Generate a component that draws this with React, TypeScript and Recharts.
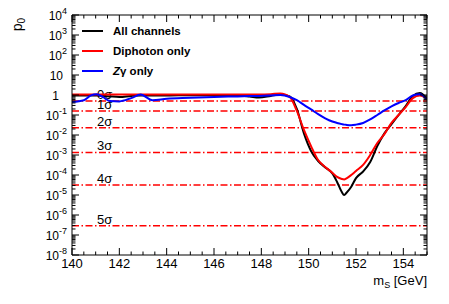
import React from "react";
import { LineChart, Line, XAxis, YAxis, ReferenceLine, Legend, Label } from "recharts";

// m_S [GeV] sample points
const MASS = [
    140, 140.5, 140.8, 141.05, 141.3, 141.6, 142, 142.5, 142.9, 143.4,
    144, 145, 146, 147, 147.5, 147.9, 148.4, 148.8, 149.2, 149.5,
    149.8, 150.1, 150.4, 150.7, 151.0, 151.2, 151.4, 151.5, 151.6, 151.8,
    152.0, 152.3, 152.6, 152.9, 153.2, 153.5, 153.8, 154.1, 154.4, 154.7, 155,
];

// local p0, all channels combined
const P0_ALL = [
    0.95, 0.95, 0.95, 0.95, 0.9, 0.85, 0.8, 0.9, 0.95, 0.95,
    0.95, 0.97, 0.97, 0.95, 0.85, 0.75, 0.9, 1.05, 0.85, 0.2,
    0.012, 1.6e-3, 5e-4, 2.4e-4, 1.2e-4, 4.5e-5, 1.4e-5, 1.0e-5, 1.3e-5, 2.6e-5,
    7e-5, 1.5e-4, 4.5e-4, 2.8e-3, 1.2e-2, 3.5e-2, 0.1, 0.28, 0.9, 1.25, 0.65,
];

// local p0, diphoton channel only
const P0_DIPHOTON = [
    1.05, 1.05, 1.05, 1.05, 1.05, 1.05, 1.05, 1.05, 1.05, 1.05,
    1.05, 1.05, 1.05, 1.05, 1.05, 1.05, 1.1, 1.2, 0.8, 0.16,
    0.018, 2.8e-3, 5.6e-4, 2.5e-4, 1.3e-4, 8e-5, 6.3e-5, 6e-5, 6.8e-5, 1e-4,
    1.6e-4, 3.2e-4, 1e-3, 4e-3, 1.1e-2, 4e-2, 0.1, 0.25, 0.7, 0.95, 0.65,
];

// local p0, Z gamma channel only
const P0_ZGAMMA = [
    0.45, 0.55, 0.95, 1.1, 0.8, 0.5, 0.48, 0.7, 1.05, 0.55,
    0.65, 0.72, 0.8, 0.85, 0.88, 0.9, 0.95, 1.0, 0.8, 0.55,
    0.32, 0.19, 0.11, 0.068, 0.047, 0.04, 0.035, 0.033, 0.032, 0.031,
    0.033, 0.04, 0.06, 0.1, 0.17, 0.27, 0.4, 0.55, 0.95, 1.1, 0.6,
];

const SIGMA_P = [0.5, 0.1587, 0.02275, 0.00135, 3.167e-5, 2.867e-7];
const SIGMA_LABELS = ["0σ", "1σ", "2σ", "3σ", "4σ", "5σ"];

const SERIES = [
    { key: "all", name: "All channels", color: "#000000" },
    { key: "dipho", name: "Diphoton only", color: "#ff0000" },
    { key: "zg", name: "Zγ only", color: "#0000ff" },
];

const X_TICKS = [
    140, 140.5, 141, 141.5, 142, 142.5, 143, 143.5, 144, 144.5, 145, 145.5,
    146, 146.5, 147, 147.5, 148, 148.5, 149, 149.5, 150, 150.5, 151, 151.5,
    152, 152.5, 153, 153.5, 154, 154.5, 155,
];
const Y_DECADES = [1e-8, 1e-7, 1e-6, 1e-5, 1e-4, 1e-3, 1e-2, 1e-1, 1, 10, 100, 1000, 10000];
const Y_TICKS = [
    ...Y_DECADES,
    ...Y_DECADES.slice(0, -1).flatMap((d) => [2, 3, 4, 5, 6, 7, 8, 9].map((m) => m * d)),
];

const data = MASS.map((m, i) => ({
    mass: m,
    all: P0_ALL[i],
    dipho: P0_DIPHOTON[i],
    zg: P0_ZGAMMA[i],
}));

const FONT = "'Liberation Sans', Arial, Helvetica, sans-serif";

function isDecade(v: number) {
    const lg = Math.log10(v);
    return Math.abs(lg - Math.round(lg)) < 1e-6;
}

const YTick = (side: "left" | "right") => (props: any) => {
    const { x, y, payload } = props;
    const v = payload.value;
    const major = isDecade(v);
    const dir = side === "left" ? 1 : -1;
    const len = major ? 7 : 3.5;
    const e = Math.round(Math.log10(v));
    let label = null;
    if (side === "left" && major) {
        if (e === 0 || e === 1) {
            label = (
                <text x={x - (e === 0 ? 13 : 9)} y={y + 4.5} textAnchor="end" fontSize={12} fontFamily={FONT} fill="#000">
                    {e === 0 ? "1" : "10"}
                </text>
            );
        } else {
            label = (
                <text x={x - 5} y={y + 4.5} textAnchor="end" fontSize={12} fontFamily={FONT} fill="#000">
                    <tspan>10</tspan>
                    <tspan dy={-5.5} fontSize={9}>{e}</tspan>
                </text>
            );
        }
    }
    return (
        <g>
            <line x1={x} x2={x + dir * len} y1={y} y2={y} stroke="#000" strokeWidth={1} />
            {label}
        </g>
    );
};

const XTick = (side: "bottom" | "top") => (props: any) => {
    const { x, y, payload } = props;
    const v = payload.value;
    const major = v % 2 === 0;
    const dir = side === "bottom" ? -1 : 1;
    const len = major ? 7 : 3.5;
    return (
        <g>
            <line x1={x} x2={x} y1={y} y2={y + dir * len} stroke="#000" strokeWidth={1} />
            {side === "bottom" && major && v < 155 && (
                <text x={x} y={y + 13} textAnchor="middle" fontSize={13} fontFamily={FONT} fill="#000">
                    {v}
                </text>
            )}
        </g>
    );
};

const SigmaLabel = (props: any) => {
    const { viewBox, text } = props;
    return (
        <text x={viewBox.x + 25} y={viewBox.y - 2} fontSize={13} fontFamily={FONT} fill="#000">
            {text}
        </text>
    );
};

const XTitle = (props: any) => {
    const { viewBox } = props;
    return (
        <text x={viewBox.x + viewBox.width} y={viewBox.y + 30} textAnchor="end" fontSize={13} fontFamily={FONT} fill="#000">
            <tspan>m</tspan>
            <tspan dy={3} fontSize={9}>S</tspan>
            <tspan dy={-3}> [GeV]</tspan>
        </text>
    );
};

const YTitle = (props: any) => {
    const { viewBox } = props;
    const x = viewBox.x - 49;
    const y = viewBox.y + 3;
    return (
        <text x={x} y={y} transform={`rotate(-90 ${x} ${y})`} textAnchor="end" fontSize={14} fontFamily={FONT} fill="#000">
            <tspan>p</tspan>
            <tspan dy={3} fontSize={10}>0</tspan>
        </text>
    );
};

const LegendBox = () => (
    <div style={{ fontFamily: FONT, fontWeight: "bold", fontSize: 11.5 }}>
        {SERIES.map((s) => (
            <div key={s.key} style={{ height: 20, display: "flex", alignItems: "center" }}>
                <svg width={21} height={4} style={{ marginRight: 10 }}>
                    <line x1={0} x2={21} y1={2} y2={2} stroke={s.color} strokeWidth={2} />
                </svg>
                <span>{s.name === "Zγ only" ? <><i>Z</i>γ only</> : s.name}</span>
            </div>
        ))}
    </div>
);

export default function App() {
    return (
        <div style={{ position: "absolute", left: 0, top: 0, width: 449, height: 304, background: "#fff" }}>
            <LineChart width={449} height={304} data={data} margin={{ top: 14, right: 21, bottom: 48, left: 71 }}>
                <XAxis
                    xAxisId="b"
                    dataKey="mass"
                    type="number"
                    domain={[140, 155]}
                    ticks={X_TICKS}
                    interval={0}
                    height={1}
                    tickSize={0}
                    tickMargin={0}
                    tickLine={false}
                    tick={XTick("bottom")}
                    axisLine={{ stroke: "#000" }}
                    allowDataOverflow
                >
                    <Label content={<XTitle />} />
                </XAxis>
                <XAxis
                    xAxisId="t"
                    orientation="top"
                    dataKey="mass"
                    type="number"
                    domain={[140, 155]}
                    ticks={X_TICKS}
                    interval={0}
                    height={1}
                    tickSize={0}
                    tickMargin={0}
                    tickLine={false}
                    tick={XTick("top")}
                    axisLine={{ stroke: "#000" }}
                    allowDataOverflow
                />
                <YAxis
                    yAxisId="l"
                    type="number"
                    scale="log"
                    domain={[1e-8, 1e4]}
                    ticks={Y_TICKS}
                    interval={0}
                    width={1}
                    tickSize={0}
                    tickMargin={0}
                    tickLine={false}
                    tick={YTick("left")}
                    axisLine={{ stroke: "#000" }}
                    allowDataOverflow
                >
                    <Label content={<YTitle />} />
                </YAxis>
                <YAxis
                    yAxisId="r"
                    orientation="right"
                    type="number"
                    scale="log"
                    domain={[1e-8, 1e4]}
                    ticks={Y_TICKS}
                    interval={0}
                    width={1}
                    tickSize={0}
                    tickMargin={0}
                    tickLine={false}
                    tick={YTick("right")}
                    axisLine={{ stroke: "#000" }}
                    allowDataOverflow
                />
                {SIGMA_P.map((p, i) => (
                    <ReferenceLine
                        key={SIGMA_LABELS[i]}
                        xAxisId="b"
                        yAxisId="l"
                        y={p}
                        stroke="#ff0000"
                        strokeWidth={1.5}
                        strokeDasharray="7 2.5 1.5 2.5"
                        label={<SigmaLabel text={SIGMA_LABELS[i]} />}
                    />
                ))}
                {SERIES.map((s) => (
                    <Line
                        key={s.key}
                        xAxisId="b"
                        yAxisId="l"
                        type="monotone"
                        dataKey={s.key}
                        name={s.name}
                        stroke={s.color}
                        strokeWidth={2}
                        dot={false}
                        isAnimationActive={false}
                    />
                ))}
                <Legend
                    layout="vertical"
                    align="center"
                    verticalAlign="middle"
                    wrapperStyle={{ position: "absolute", left: 82, top: 21, width: 160, height: 60 }}
                    content={() => <LegendBox />}
                />
            </LineChart>
        </div>
    );
}
